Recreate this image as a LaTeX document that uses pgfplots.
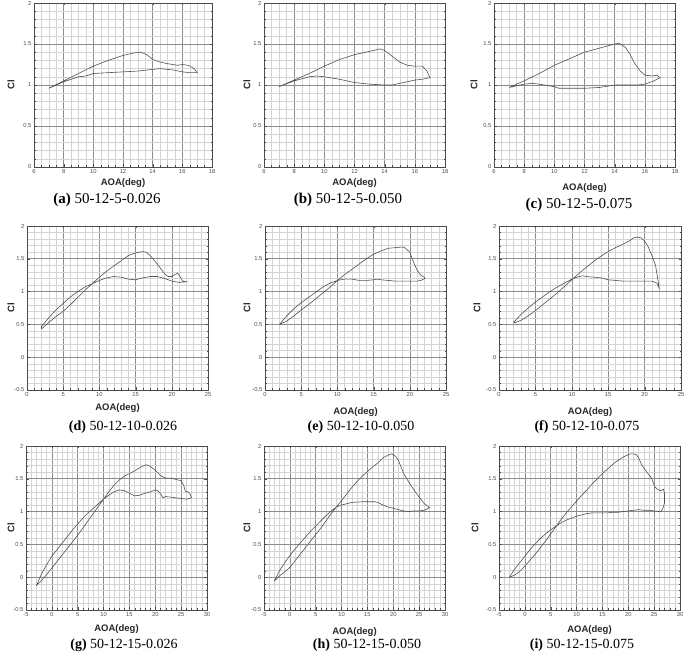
\documentclass[border=0pt]{standalone}
\usepackage{fontspec}
\setmainfont{Liberation Serif}
\setsansfont{Liberation Sans}
\usepackage{pgfplots}
\pgfplotsset{compat=1.18}
\definecolor{majg}{HTML}{8C8C8C}
\definecolor{ming}{HTML}{D4D4D4}
\definecolor{curve}{HTML}{505050}
\pgfplotsset{
  panel/.style={
    scale only axis, height=164pt, anchor=south west,
    grid=both,
    major grid style={majg, line width=0.6pt},
    minor grid style={ming, line width=0.4pt},
    axis line style={black!70, line width=0.6pt},
    tick style={black!70},
    major tick length=2.5pt, minor tick length=1.5pt,
    tick align=inside,
    minor y tick num=4,
    ticklabel style={font=\sffamily\fontsize{5.8}{6}\selectfont, text=black!70},
    /pgf/number format/assume math mode=true,
    xticklabel style={yshift=1pt},
    yticklabel style={xshift=1pt},
    xlabel={AOA(deg)}, ylabel={Cl},
    label style={font=\sffamily\bfseries\fontsize{9.5}{10}\selectfont, text=black!85},
  },
  row1/.style={panel, xmin=6, xmax=18, ymin=0, ymax=2, xtick={6,8,10,12,14,16,18}, minor x tick num=3, ytick={0,0.5,1,1.5,2}},
  row2/.style={panel, xmin=0, xmax=25, ymin=-0.5, ymax=2, xtick={0,5,10,15,20,25}, minor x tick num=4, ytick={-0.5,0,0.5,1,1.5,2}},
  row3/.style={panel, xmin=-5, xmax=30, ymin=-0.5, ymax=2, xtick={-5,0,5,10,15,20,25,30}, minor x tick num=4, ytick={-0.5,0,0.5,1,1.5,2}},
  cl/.style={curve, line width=0.6pt, mark=none},
}
\newcommand{\xl}[1]{xlabel style={at={(axis description cs:0.5,0)}, anchor=center, yshift=-#1pt}}
\newcommand{\yl}[1]{ylabel style={at={(axis description cs:#1,0.5)}, anchor=center}}
\begin{document}
\begin{tikzpicture}
\useasboundingbox (0,0) rectangle (685pt,655pt);
% ---------------- (a)
\begin{axis}[row1, at={(34pt,488pt)}, width=178pt, \xl{16}, \yl{-0.129}]
\addplot[cl] coordinates {
(7,0.96) (8,1.05) (9,1.14) (10,1.23) (11,1.30) (12,1.36) (12.7,1.39) (13.2,1.40) (13.6,1.37) (14,1.31) (14.5,1.28) (15,1.26) (15.7,1.24) (16,1.25) (16.4,1.24) (16.8,1.20) (17,1.15)
(16.5,1.15) (16,1.16) (15.5,1.18) (15,1.19) (14.5,1.20) (14,1.19) (13,1.17) (12,1.16) (11,1.15) (10,1.14) (9.5,1.11) (9,1.10) (8,1.04) (7,0.96)};
\end{axis}
% ---------------- (b)
\begin{axis}[row1, at={(264pt,488pt)}, width=181pt, \xl{16}, \yl{-0.094}]
\addplot[cl] coordinates {
(7,0.98) (8,1.06) (9,1.14) (10,1.23) (11,1.31) (12,1.37) (13,1.41) (13.7,1.44) (14,1.42) (14.5,1.35) (15,1.28) (15.5,1.24) (16,1.23) (16.5,1.23) (16.8,1.17) (17,1.09)
(16.5,1.07) (16,1.06) (15.5,1.04) (15,1.02) (14.5,1.00) (14,1.00) (13,1.01) (12,1.03) (11,1.07) (10,1.10) (9.5,1.11) (9,1.10) (8,1.05) (7,0.98)};
\end{axis}
% ---------------- (c)
\begin{axis}[row1, at={(494pt,488pt)}, width=181pt, \xl{21}, \yl{-0.110}]
\addplot[cl] coordinates {
(7,0.97) (8,1.05) (9,1.14) (10,1.24) (11,1.32) (12,1.40) (13,1.45) (14,1.50) (14.3,1.51) (14.7,1.46) (15,1.38) (15.3,1.27) (15.7,1.17) (16,1.12) (16.5,1.11) (16.8,1.12) (17,1.09)
(16.6,1.05) (16,1.01) (15.5,1.00) (15,1.00) (14,1.00) (13,0.97) (12,0.96) (11,0.96) (10.3,0.96) (10,0.98) (9,1.01) (8.5,1.02) (8,1.01) (7,0.97)};
\end{axis}
% ---------------- (d)
\begin{axis}[row2, at={(27pt,265pt)}, width=181pt, \xl{18}, \yl{-0.088}]
\addplot[cl] coordinates {
(2,0.43) (3,0.53) (4,0.62) (5,0.70) (6,0.80) (7,0.91) (8,1.02) (9,1.12) (10,1.22) (11,1.31) (12,1.39) (13,1.47) (14,1.55) (15,1.59) (16,1.61) (16.5,1.60) (17,1.55) (18,1.42) (19,1.27) (19.5,1.23) (20,1.23) (20.5,1.26) (20.8,1.28) (21.2,1.22) (21.5,1.16) (22,1.15)
(21,1.14) (20,1.16) (19,1.20) (18,1.23) (17,1.23) (16,1.21) (15,1.18) (14,1.19) (13,1.22) (12,1.23) (11,1.21) (10,1.17) (9,1.12) (8,1.07) (7,1.00) (6,0.92) (5,0.82) (4,0.72) (3,0.60) (2,0.47) (2,0.43)};
\end{axis}
% ---------------- (e)
\begin{axis}[row2, at={(265pt,265pt)}, width=181pt, \xl{22}, \yl{-0.099}]
\addplot[cl] coordinates {
(2,0.50) (3,0.55) (4,0.63) (5,0.72) (6,0.80) (7,0.89) (8,0.98) (9,1.07) (10,1.17) (11,1.26) (12,1.34) (13,1.42) (14,1.50) (15,1.57) (16,1.62) (17,1.66) (18,1.67) (19,1.68) (19.3,1.67) (20,1.60) (20.5,1.45) (21,1.33) (21.5,1.25) (22,1.22) (22.1,1.20)
(21.5,1.17) (21,1.16) (20,1.16) (19,1.16) (18,1.16) (17,1.17) (16,1.18) (15.5,1.19) (15,1.18) (14,1.17) (13,1.17) (12,1.19) (11,1.19) (10,1.17) (9,1.13) (8,1.07) (7,0.99) (6,0.91) (5,0.83) (4,0.74) (3,0.63) (2,0.50)};
\end{axis}
% ---------------- (f)
\begin{axis}[row2, at={(499pt,265pt)}, width=182pt, \xl{22}, \yl{-0.121}]
\addplot[cl] coordinates {
(2,0.52) (3,0.56) (4,0.63) (5,0.71) (6,0.80) (7,0.89) (8,0.98) (9,1.08) (10,1.18) (11,1.28) (12,1.37) (13,1.46) (14,1.54) (15,1.61) (16,1.67) (17,1.72) (18,1.78) (18.5,1.82) (19,1.83) (19.5,1.82) (20,1.77) (20.5,1.68) (21,1.55) (21.5,1.40) (21.8,1.20) (22,1.05)
(21.7,1.13) (21,1.16) (20,1.16) (19,1.16) (18,1.16) (17,1.16) (16,1.17) (15,1.18) (14,1.21) (13,1.22) (12,1.23) (11.5,1.24) (11,1.23) (10,1.19) (9,1.13) (8,1.07) (7,1.00) (6,0.92) (5,0.84) (4,0.75) (3,0.65) (2,0.53)};
\end{axis}
% ---------------- (g)
\begin{axis}[row3, at={(26pt,45pt)}, width=181pt, \xl{19}, \yl{-0.083}]
\addplot[cl] coordinates {
(-3,-0.13) (-2,-0.05) (-1,0.04) (0,0.14) (1,0.24) (2,0.34) (3,0.44) (4,0.54) (5,0.64) (6,0.75) (7,0.86) (8,0.97) (9,1.08) (10,1.19) (11,1.30) (12,1.40) (13,1.48) (14,1.54) (15,1.58) (16,1.62) (17,1.67) (18,1.71) (18.5,1.71) (19,1.69) (20,1.63) (21,1.55) (22,1.51) (23,1.51) (24,1.49) (25,1.47) (25.5,1.40) (25.8,1.31) (26.3,1.30) (26.7,1.27) (27,1.22)
(26.7,1.20) (26,1.19) (25,1.20) (24,1.21) (23,1.22) (22,1.23) (21.5,1.21) (21,1.27) (20.5,1.32) (20,1.33) (19,1.30) (18,1.28) (17,1.25) (16,1.24) (15,1.28) (14,1.32) (13,1.33) (12,1.30) (11,1.25) (10,1.19) (9,1.12) (8,1.05) (7,0.98) (6,0.90) (5,0.81) (4,0.72) (3,0.62) (2,0.52) (1,0.42) (0,0.32) (-1,0.19) (-2,0.05) (-3,-0.13)};
\end{axis}
% ---------------- (h)
\begin{axis}[row3, at={(264pt,45pt)}, width=181pt, \xl{22}, \yl{-0.094}]
\addplot[cl] coordinates {
(-3,-0.06) (-2,0.02) (-1,0.08) (0,0.15) (1,0.25) (2,0.35) (3,0.45) (4,0.55) (5,0.65) (6,0.75) (7,0.86) (8,0.97) (9,1.07) (10,1.17) (11,1.27) (12,1.37) (13,1.46) (14,1.54) (15,1.61) (16,1.68) (17,1.74) (18,1.82) (19,1.86) (19.7,1.88) (20.5,1.84) (21,1.78) (21.5,1.68) (22,1.58) (23,1.45) (24,1.33) (25,1.22) (26,1.12) (26.7,1.08) (27,1.06)
(26.5,1.04) (26,1.02) (25,1.01) (24,1.01) (23,1.00) (22,1.01) (21,1.03) (20,1.05) (19,1.07) (18,1.10) (17,1.14) (16.5,1.15) (16,1.15) (14,1.15) (12,1.14) (11,1.12) (10,1.10) (9,1.07) (8,1.01) (7,0.94) (6,0.86) (5,0.78) (4,0.70) (3,0.61) (2,0.52) (1,0.43) (0,0.33) (-1,0.22) (-2,0.10) (-3,-0.06)};
\end{axis}
% ---------------- (i)
\begin{axis}[row3, at={(499pt,45pt)}, width=181pt, \xl{20}, \yl{-0.133}]
\addplot[cl] coordinates {
(-3,0.00) (-2,0.03) (-1,0.09) (0,0.17) (1,0.26) (2,0.35) (3,0.45) (4,0.55) (5,0.66) (6,0.77) (7,0.88) (8,0.98) (9,1.07) (10,1.16) (11,1.25) (12,1.33) (13,1.42) (14,1.50) (15,1.58) (16,1.65) (17,1.72) (18,1.78) (19,1.83) (20,1.87) (20.5,1.88) (21,1.88) (21.5,1.87) (22,1.82) (22.6,1.71) (23.5,1.61) (24.5,1.51) (25.1,1.38) (25.8,1.33) (26.3,1.32) (26.8,1.34) (27,1.28) (27,1.13) (26.7,1.05) (26.3,1.00)
(26,1.00) (25,1.01) (24,1.02) (23,1.02) (22,1.03) (21,1.02) (20,1.01) (19,1.00) (18,0.99) (17,0.99) (16,0.98) (15,0.98) (14,0.98) (13,0.98) (12,0.97) (11,0.95) (10,0.93) (9,0.90) (8,0.87) (7,0.83) (6,0.78) (5,0.72) (4,0.66) (3,0.59) (2,0.51) (1,0.42) (0,0.32) (-1,0.22) (-2,0.12) (-3,0.00)};
\end{axis}
% ---------------- captions
\begin{scope}[every node/.style={font=\fontsize{14}{14}\selectfont, inner sep=0pt, anchor=center}]
\node[font=\fontsize{15}{15}\selectfont] at (107pt,455pt) {\textbf{(a)} 50-12-5-0.026};
\node[font=\fontsize{15}{15}\selectfont] at (348pt,455pt) {\textbf{(b)} 50-12-5-0.050};
\node[font=\fontsize{15}{15}\selectfont] at (579pt,450pt) {\textbf{(c)} 50-12-5-0.075};
\node at (123pt,228pt) {\textbf{(d)} 50-12-10-0.026};
\node at (361pt,228pt) {\textbf{(e)} 50-12-10-0.050};
\node at (587pt,228pt) {\textbf{(f)} 50-12-10-0.075};
\node at (124pt,10pt) {\textbf{(g)} 50-12-15-0.026};
\node at (367pt,10pt) {\textbf{(h)} 50-12-15-0.050};
\node at (582pt,10pt) {\textbf{(i)} 50-12-15-0.075};
\end{scope}
\end{tikzpicture}
\end{document}
